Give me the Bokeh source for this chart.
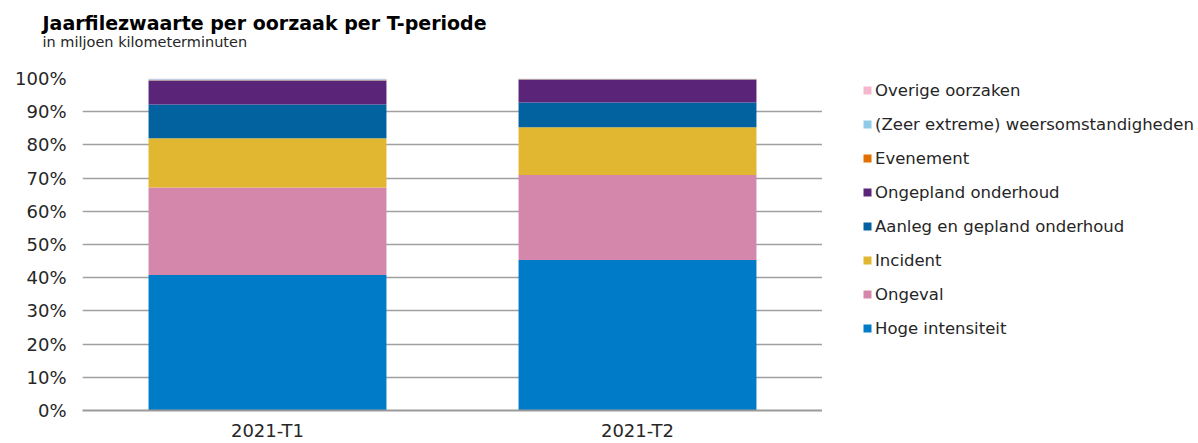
from bokeh.plotting import figure
from bokeh.layouts import column, row
from bokeh.models import (FactorRange, Range1d, FixedTicker, NumeralTickFormatter,
                          Legend, LegendItem, Label, ColumnDataSource)
from bokeh.embed import file_html
from bokeh.resources import INLINE

# ---- data ----
periods = ["2021-T1", "2021-T2"]
causes = ["Hoge intensiteit", "Ongeval", "Incident", "Aanleg en gepland onderhoud",
          "Ongepland onderhoud", "Evenement", "(Zeer extreme) weersomstandigheden",
          "Overige oorzaken"]
hoge_intensiteit = [0.408, 0.453]
ongeval = [0.264, 0.256]
incident = [0.148, 0.144]
aanleg = [0.102, 0.075]
ongepland = [0.072, 0.069]
evenement = [0.001, 0.001]
weer = [0.003, 0.001]
overige = [0.002, 0.001]
colors = ["#007BC7", "#D486AB", "#E1B630", "#01629F", "#5A2479", "#E17000",
          "#8FCAE7", "#F4B7CE"]
y_ticks = [0.0, 0.1, 0.2, 0.3, 0.4, 0.5, 0.6, 0.7, 0.8, 0.9, 1.0]
title = "Jaarfilezwaarte per oorzaak per T-periode"
subtitle = "in miljoen kilometerminuten"

keys = ["hoge", "ongeval", "incident", "aanleg", "ongepland", "evenement", "weer", "overige"]
series = [hoge_intensiteit, ongeval, incident, aanleg, ongepland, evenement, weer, overige]
data = {"period": periods}
for k, s in zip(keys, series):
    data[k] = s
source = ColumnDataSource(data)

FONT = "DejaVu Sans"
TITLE_H = 60
TOTAL_W, TOTAL_H = 1198, 443
MAIN_W = 822

# ---- title strip ----
t = figure(width=TOTAL_W, height=TITLE_H, output_backend="svg", toolbar_location=None,
           x_range=Range1d(0, TOTAL_W), y_range=Range1d(TITLE_H, 0),
           x_axis_type=None, y_axis_type=None, min_border=0)
t.outline_line_color = None
t.grid.grid_line_color = None
t.add_layout(Label(text=title, x=42, y=22, text_font=FONT, text_font_size="19px",
                   text_font_style="bold", text_color="black", text_baseline="alphabetic"))
t.add_layout(Label(text=subtitle, x=42, y=41, text_font=FONT, text_font_size="14.5px",
                   text_color="#262626", text_baseline="alphabetic"))

# ---- main chart ----
p = figure(width=MAIN_W, height=TOTAL_H - TITLE_H, output_backend="svg", toolbar_location=None,
           x_range=FactorRange(*periods, range_padding=0), y_range=Range1d(0, 1),
           min_border_left=82, min_border_right=0, min_border_bottom=0,
           min_border_top=18)
p.outline_line_color = None
p.background_fill_color = "white"

p.vbar_stack(keys, x="period", width=0.643, color=colors, source=source, line_color=None)

p.yaxis.ticker = FixedTicker(ticks=y_ticks)
p.yaxis.formatter = NumeralTickFormatter(format="0%")
p.yaxis.axis_line_color = None
p.yaxis.major_tick_line_color = None
p.yaxis.minor_tick_line_color = None
p.yaxis.major_tick_out = 0
p.yaxis.major_tick_in = 0
p.yaxis.major_label_standoff = 16
p.yaxis.major_label_text_font = FONT
p.yaxis.major_label_text_font_size = "18px"
p.yaxis.major_label_text_color = "#262626"

p.xaxis.axis_line_color = "#9a9a9a"
p.xaxis.axis_line_width = 2
p.xaxis.major_tick_line_color = None
p.xaxis.minor_tick_line_color = None
p.xaxis.major_tick_out = 0
p.xaxis.major_tick_in = 0
p.xaxis.major_label_standoff = 9
p.xaxis.major_label_text_font = FONT
p.xaxis.major_label_text_font_size = "18px"
p.xaxis.major_label_text_color = "#262626"

p.xgrid.grid_line_color = None
p.ygrid.ticker = FixedTicker(ticks=y_ticks)
p.ygrid.grid_line_color = "#a0a0a0"
p.ygrid.grid_line_width = 1.5
p.ygrid.level = "underlay"

# ---- legend panel ----
lg = figure(width=TOTAL_W - MAIN_W, height=TOTAL_H - TITLE_H, output_backend="svg",
            toolbar_location=None, x_range=FactorRange(*periods), y_range=Range1d(5, 6),
            x_axis_type=None, y_axis_type=None, min_border=0)
lg.outline_line_color = None
lg.grid.grid_line_color = None
lrend = lg.vbar_stack(keys, x="period", width=0.643, color=colors, source=source,
                      line_color=None)
for r in lrend:
    r.visible = False
items = [LegendItem(label=c, renderers=[r]) for c, r in zip(causes, lrend)][::-1]
legend = Legend(items=items, location=(40, 72), orientation="vertical",
                label_text_font=FONT, label_text_font_size="16.5px",
                label_text_color="#262626", glyph_width=10, glyph_height=10,
                label_height=20, spacing=14, label_standoff=3, padding=0, margin=0,
                border_line_color=None, background_fill_alpha=0,
                inactive_fill_alpha=0)
lg.add_layout(legend, "center")

layout = column(t, row(p, lg, spacing=0), spacing=0)
open("out.html", "w").write(file_html(layout, INLINE))
